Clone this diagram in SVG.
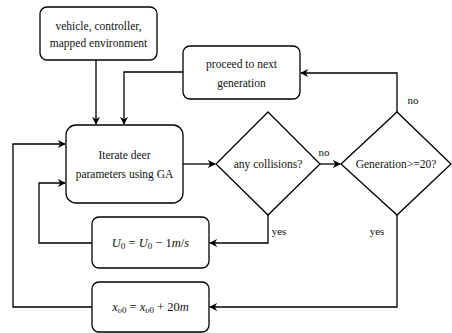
<svg xmlns="http://www.w3.org/2000/svg" width="452" height="333" viewBox="0 0 452 333">
<style>
.n{fill:#fff;stroke:#000;stroke-width:1.3}
.e{fill:none;stroke:#000;stroke-width:1.3}
text{font-family:"Liberation Serif",serif;font-size:11.5px;fill:#111;text-anchor:middle}
.l{font-size:11px}
.i{font-style:italic}
.m{font-size:12.5px}
</style>
<defs>
<marker id="a" viewBox="0 0 10 10" refX="9" refY="5" markerWidth="8" markerHeight="8" markerUnits="userSpaceOnUse" orient="auto">
<path d="M0,0 L10,5 L0,10 L3,5 Z" fill="#000"/>
</marker>
</defs>
<g id="connectors">
<path class="e" d="M96,60 V124" marker-end="url(#a)"/>
<path class="e" d="M183,72 H124 V124" marker-end="url(#a)"/>
<path class="e" d="M183,164 H215" marker-end="url(#a)"/>
<path class="e" d="M320,164 H340" marker-end="url(#a)"/>
<path class="e" d="M397,112 V73 H301" marker-end="url(#a)"/>
<path class="e" d="M268,215 V243 H210" marker-end="url(#a)"/>
<path class="e" d="M397,215 V307 H210" marker-end="url(#a)"/>
<path class="e" d="M92,243 H39 V183 H65" marker-end="url(#a)"/>
<path class="e" d="M92,307 H13 V144 H65" marker-end="url(#a)"/>
<text class="l" x="324" y="156">no</text>
<text class="l" x="413" y="104">no</text>
<text class="l" x="279" y="235">yes</text>
<text class="l" x="377" y="235">yes</text>
</g>
<g id="inputs">
<rect class="n" x="40" y="7" width="117" height="53" rx="7"/>
<text x="98.5" y="30">vehicle, controller,</text>
<text x="98.5" y="47">mapped environment</text>
</g>
<g id="next">
<rect class="n" x="183" y="46" width="117" height="53" rx="7"/>
<text x="241.5" y="68">proceed to next</text>
<text x="241.5" y="87">generation</text>
</g>
<g id="iterate">
<rect class="n" x="66" y="125" width="117" height="78" rx="10"/>
<text x="124.5" y="159">Iterate deer</text>
<text x="124.5" y="178">parameters using GA</text>
</g>
<g id="collisions">
<polygon class="n" points="216,164 268,112 320,164 268,215"/>
<text x="268" y="168">any collisions?</text>
</g>
<g id="generation">
<polygon class="n" points="341,164 397,112 451,164 397,215"/>
<text x="396" y="168">Generation&gt;=20?</text>
</g>
<g id="speed">
<rect class="n" x="92" y="217" width="117" height="51" rx="7"/>
<text class="m" x="150.5" y="247"><tspan class="i">U</tspan><tspan font-size="9" dy="2">0</tspan><tspan dy="-2"> = </tspan><tspan class="i">U</tspan><tspan font-size="9" dy="2">0</tspan><tspan dy="-2"> − 1</tspan><tspan class="i">m</tspan>/<tspan class="i">s</tspan></text>
</g>
<g id="distance">
<rect class="n" x="92" y="282" width="117" height="50" rx="7"/>
<text class="m" x="150.5" y="311"><tspan class="i">x</tspan><tspan font-size="9" dy="2"><tspan class="i">υ</tspan>0</tspan><tspan dy="-2"> = </tspan><tspan class="i">x</tspan><tspan font-size="9" dy="2"><tspan class="i">υ</tspan>0</tspan><tspan dy="-2"> + 20</tspan><tspan class="i">m</tspan></text>
</g>
</svg>
